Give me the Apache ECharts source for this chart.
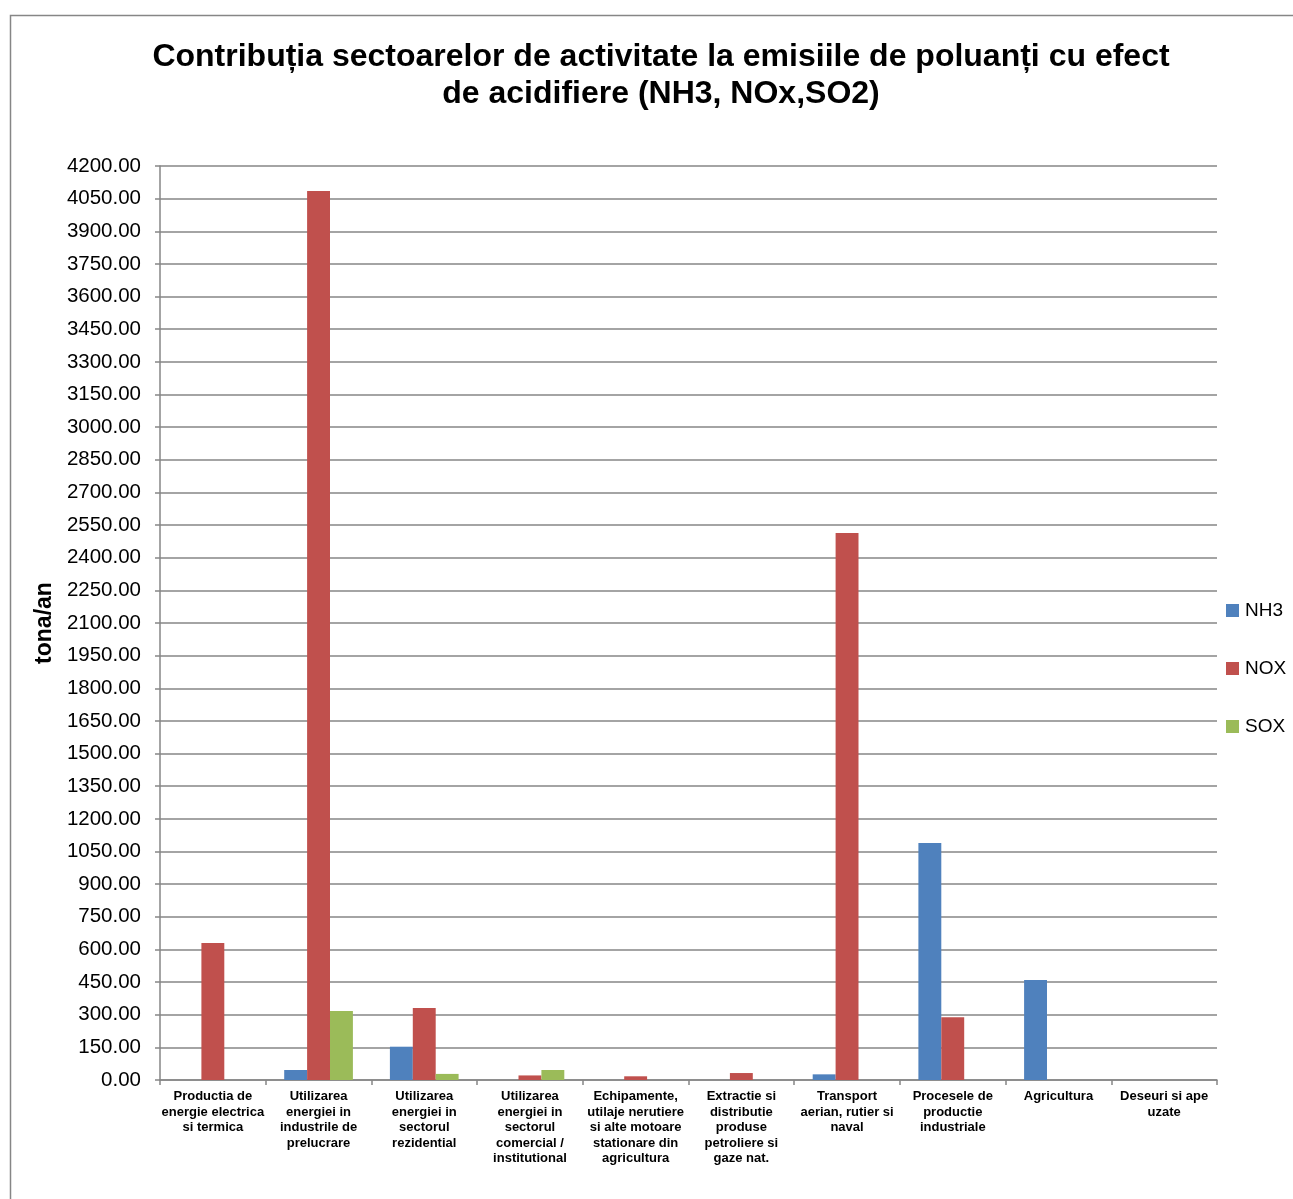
<!DOCTYPE html>
<html>
<head>
<meta charset="utf-8">
<script src="https://cdn.jsdelivr.net/npm/echarts@6/dist/echarts.min.js"></script>
<style>
  html, body { margin: 0; padding: 0; background: #fff; }
  #chart { width: 1293px; height: 1199px; }
</style>
</head>
<body>
<div id="chart"></div>
<script>
// Activity sectors (line breaks as printed under the axis)
const sectors = [
  'Productia de\nenergie electrica\nsi termica',
  'Utilizarea\nenergiei in\nindustrile de\nprelucrare',
  'Utilizarea\nenergiei in\nsectorul\nrezidential',
  'Utilizarea\nenergiei in\nsectorul\ncomercial /\ninstitutional',
  'Echipamente,\nutilaje nerutiere\nsi alte motoare\nstationare din\nagricultura',
  'Extractie si\ndistributie\nproduse\npetroliere si\ngaze nat.',
  'Transport\naerian, rutier si\nnaval',
  'Procesele de\nproductie\nindustriale',
  'Agricultura',
  'Deseuri si ape\nuzate'
];

// Emissions, tonnes per year
const nh3 = [0, 46, 153, 0, 0, 0, 26, 1089, 460, 0];
const nox = [630, 4085, 331, 21, 17, 32, 2514, 288, 0, 0];
const sox = [0, 317, 28, 46, 0, 0, 0, 0, 0, 0];

const yMin = 0, yMax = 4200, yStep = 150;

const chart = echarts.init(document.getElementById('chart'), null, { renderer: 'canvas' });
const font = 'Liberation Sans, Arial, sans-serif';

chart.setOption({
  backgroundColor: '#fff',
  animation: false,
  textStyle: { fontFamily: font },
  title: {
    text: 'Contribuția sectoarelor de activitate la emisiile de poluanți cu efect\nde acidifiere (NH3, NOx,SO2)',
    left: 656,
    textAlign: 'center',
    top: 34,
    textStyle: { fontFamily: font, fontSize: 32, fontWeight: 'bold', color: '#000', lineHeight: 37 }
  },
  graphic: [{
    type: 'rect',
    shape: { x: 10.5, y: 15.5, width: 1300, height: 1200 },
    style: { fill: 'none', stroke: '#868686', lineWidth: 1.5 },
    silent: true
  }],
  legend: {
    orient: 'vertical',
    left: 1221,
    top: 596,
    itemGap: 39,
    itemWidth: 13,
    itemHeight: 13,
    icon: 'rect',
    textStyle: { fontFamily: font, fontSize: 19, color: '#000', padding: [0, 0, 0, 1] },
    data: ['NH3', 'NOX', 'SOX']
  },
  grid: { left: 160, top: 166, right: 76, bottom: 119, containLabel: false },
  xAxis: {
    type: 'category',
    data: sectors,
    axisLine: { lineStyle: { color: '#868686', width: 1.5 } },
    axisTick: { show: true, alignWithLabel: false, length: 5, lineStyle: { color: '#868686', width: 1.5 } },
    axisLabel: {
      interval: 0,
      margin: 9,
      fontFamily: font,
      fontSize: 13,
      fontWeight: 'bold',
      color: '#000',
      lineHeight: 15.5,
      align: 'center'
    },
    splitLine: { show: false }
  },
  yAxis: {
    type: 'value',
    min: yMin,
    max: yMax,
    interval: yStep,
    name: 'tona/an',
    nameLocation: 'middle',
    nameRotate: 90,
    nameGap: 104,
    nameTextStyle: { fontFamily: font, fontSize: 23, fontWeight: 'bold', color: '#000' },
    axisLine: { show: true, lineStyle: { color: '#868686', width: 1.5 } },
    axisTick: { show: true, length: 5, lineStyle: { color: '#868686', width: 1.5 } },
    axisLabel: {
      margin: 19,
      fontFamily: font,
      fontSize: 20.5,
      color: '#000',
      formatter: v => v.toFixed(2)
    },
    splitLine: { show: true, lineStyle: { color: '#868686', width: 1.5 } }
  },
  series: [
    { name: 'NH3', type: 'bar', data: nh3, barGap: '0%', barCategoryGap: '35%', itemStyle: { color: '#4F81BD' } },
    { name: 'NOX', type: 'bar', data: nox, barGap: '0%', barCategoryGap: '35%', itemStyle: { color: '#C0504D' } },
    { name: 'SOX', type: 'bar', data: sox, barGap: '0%', barCategoryGap: '35%', itemStyle: { color: '#9BBB59' } }
  ]
});
</script>
</body>
</html>
